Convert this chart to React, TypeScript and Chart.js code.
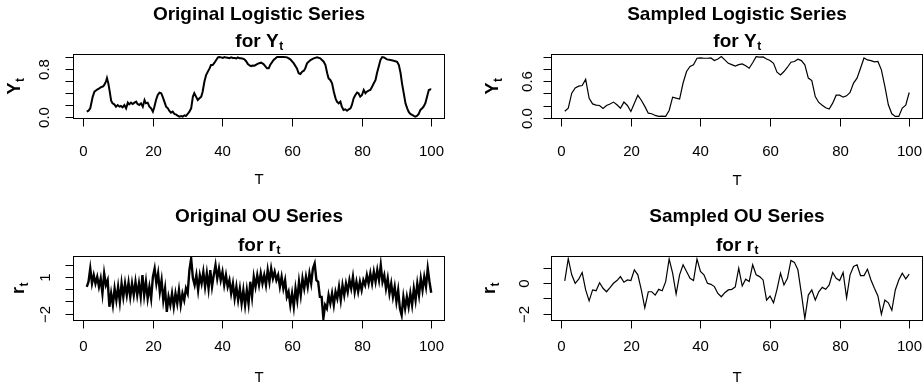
import React, { useEffect, useRef } from "react";
import { Chart, registerables } from "chart.js";

Chart.register(...registerables);

const FONT = '"Liberation Sans", Arial, Helvetica, sans-serif';

// ---------- axes ----------
const xTicks = [0, 20, 40, 60, 80, 100];
const xTickLabels = ["0", "20", "40", "60", "80", "100"];
const xMin = -2.96;
const xMax = 103.96;

const logisticTicks = [0, 0.2, 0.4, 0.6, 0.8, 1.0];
const origLogisticTickLabels = ["0.0", "", "", "", "0.8", ""];
const sampledLogisticTickLabels = ["0.0", "", "", "0.6", "", ""];
const origOUTicks = [-2, -1, 0, 1, 2];
const origOUTickLabels = ["\u22122", "", "", "1", ""];
const sampledOUTicks = [-2, -1, 0, 1];
const sampledOUTickLabels = ["\u22122", "", "0", ""];

// ---------- data ----------
const origLogisticT = [
  1, 1.5, 2, 2.7, 3.2, 4, 4.6, 5.1, 5.6, 6, 6.5, 6.8, 7.2, 7.6, 8, 8.4, 8.9, 9.4, 9.9, 10.4,
  10.8, 11.3, 11.8, 12.3, 12.8, 13.2, 13.7, 14.2, 14.7, 15.2, 15.6, 16.1, 16.6, 17.1, 17.6, 18, 18.5, 19, 19.5, 20,
  20.4, 20.9, 21.4, 21.9, 22.4, 22.8, 23.3, 23.8, 24.3, 24.7, 25.2, 25.7, 26.2, 26.7, 27.1, 27.6, 28.1, 28.6, 29.1, 29.5,
  30, 30.5, 31, 31.5, 31.9, 32.4, 32.9, 33.4, 33.9, 34.3, 34.8, 35.3, 35.8, 36.3, 36.7, 37.2, 37.7, 38.2, 38.7, 39.1,
  39.6, 40.1, 40.6, 41, 41.5, 42, 42.5, 43, 43.5, 44, 44.4, 44.9, 45.4, 45.9, 46.3, 46.8, 47.3, 47.8, 48.2, 48.7,
  49.2, 50.2, 51.1, 51.8, 52.8, 53.3, 53.7, 54.7, 55.7, 56.6, 57.6, 58.6, 59.5, 60.5, 61.4, 61.9, 62.4, 62.9, 63.4, 63.8,
  64.3, 65.3, 66.2, 67.2, 68.1, 69.1, 69.6, 70.1, 70.5, 71, 71.5, 72, 72.5, 72.9, 73.4, 73.9, 74.3, 74.8, 75.3, 75.8,
  76.3, 76.8, 77.2, 77.7, 78.2, 78.7, 79.1, 79.6, 80.1, 80.6, 81.1, 81.5, 82, 82.5, 83, 83.5, 84, 84.4, 84.9, 85.4,
  85.9, 86.4, 87.3, 88.3, 89.2, 90.2, 90.7, 91.2, 91.6, 92.1, 92.6, 93.1, 93.5, 94, 94.5, 95, 95.4, 95.9, 96.4, 96.9,
  97.4, 97.8, 98.3, 98.8, 99.3, 99.8, 100,
];
const origLogisticY = [
  0.094, 0.11, 0.15, 0.34, 0.425, 0.46, 0.48, 0.5, 0.51, 0.535, 0.59, 0.65, 0.56, 0.425, 0.276, 0.232, 0.215, 0.177, 0.204, 0.177,
  0.188, 0.166, 0.204, 0.149, 0.243, 0.215, 0.243, 0.221, 0.243, 0.26, 0.221, 0.204, 0.232, 0.177, 0.287, 0.232, 0.243, 0.177, 0.149, 0.094,
  0.166, 0.287, 0.37, 0.41, 0.4, 0.343, 0.26, 0.177, 0.149, 0.11, 0.077, 0.094, 0.055, 0.044, 0.028, 0.011, 0.022, 0.011, 0.033, 0.022,
  0.055, 0.094, 0.149, 0.343, 0.4, 0.343, 0.287, 0.315, 0.343, 0.425, 0.59, 0.7, 0.757, 0.812, 0.867, 0.867, 0.906, 0.95, 0.994, 1.0,
  0.994, 0.985, 1.0, 0.99, 0.989, 0.98, 0.994, 0.985, 0.983, 0.975, 0.994, 0.98, 0.978, 0.97, 0.961, 0.93, 0.884, 0.86, 0.85, 0.86,
  0.856, 0.89, 0.906, 0.884, 0.812, 0.812, 0.867, 0.95, 1.0, 1.0, 1.0, 0.994, 0.961, 0.895, 0.812, 0.73, 0.718, 0.757, 0.773, 0.812,
  0.895, 0.95, 0.978, 0.994, 0.978, 0.922, 0.867, 0.73, 0.646, 0.619, 0.564, 0.425, 0.315, 0.26, 0.232, 0.26, 0.177, 0.122, 0.133, 0.11,
  0.133, 0.149, 0.204, 0.315, 0.37, 0.41, 0.4, 0.343, 0.37, 0.453, 0.4, 0.425, 0.442, 0.453, 0.508, 0.564, 0.619, 0.73, 0.84, 0.95,
  1.0, 0.994, 0.961, 0.95, 0.939, 0.922, 0.867, 0.73, 0.564, 0.4, 0.232, 0.149, 0.094, 0.055, 0.039, 0.022, 0.011, 0.022, 0.055, 0.122,
  0.149, 0.177, 0.232, 0.343, 0.453, 0.464, 0.46,
];

const sampledT = Array.from({ length: 100 }, (_, i) => i + 1);
const sampledLogisticY = [
  0.11, 0.16, 0.405, 0.49, 0.52, 0.53, 0.63, 0.32, 0.23, 0.21,
  0.205, 0.157, 0.205, 0.23, 0.26, 0.216, 0.16, 0.26, 0.205, 0.108,
  0.24, 0.37, 0.29, 0.19, 0.08, 0.07, 0.043, 0.027, 0.032, 0.027,
  0.124, 0.34, 0.324, 0.31, 0.57, 0.757, 0.84, 0.865, 0.973, 0.978,
  0.973, 0.973, 0.978, 0.935, 0.962, 1.0, 0.946, 0.89, 0.87, 0.845,
  0.87, 0.88, 0.85, 0.81, 0.9, 1.0, 0.99, 0.995, 0.962, 0.935,
  0.89, 0.746, 0.7, 0.757, 0.827, 0.908, 0.92, 0.957, 0.935, 0.865,
  0.65, 0.61, 0.35, 0.254, 0.21, 0.168, 0.146, 0.243, 0.373, 0.373,
  0.34, 0.362, 0.416, 0.568, 0.65, 0.81, 0.978, 0.946, 0.935, 0.913,
  0.92, 0.784, 0.514, 0.216, 0.07, 0.027, 0.027, 0.162, 0.21, 0.416,
];

const origOUT = Array.from({ length: 199 }, (_, i) => 1 + i * 0.5);
const origOUY = [
  0.19, 0.6, 1.68, 0.46, 1.14, 0.46, 1.0, 0.19, 0.87, -0.35,
  1.28, 0.33, 0.73, -1.44, -0.35, -1.3, 0.05, -0.9, 0.19, -1.03,
  0.46, -0.63, 0.46, -0.49, 0.52, -0.63, 0.46, -0.49, 0.6, -0.49,
  0.46, -0.63, 1.14, -0.49, 0.6, -0.76, 0.19, -0.76, 1.0, 1.68,
  0.46, 1.28, -0.22, 0.73, -0.9, 0.05, -1.85, -0.63, -1.3, -0.35,
  -1.44, -0.35, -1.17, -0.08, -1.3, -0.35, -0.9, 0.05, -0.35, 1.55,
  2.5, 0.9, 0.33, 1.14, -0.08, 1.14, 0.46, 1.41, 0.19, 1.28,
  0.05, 1.55, 0.19, 1.14, 1.96, 0.87, 1.68, 0.73, 1.41, 0.33,
  1.14, 0.19, 0.73, -0.35, 0.46, -0.76, 0.19, -0.9, 0.05, -1.17,
  -0.08, -1.3, -0.08, -1.17, 0.6, -0.63, 1.0, 0.19, 1.14, 0.33,
  1.28, 0.46, 1.14, 0.33, 1.55, 0.6, 1.68, 0.87, 1.41, 0.73,
  1.14, 0.19, 1.0, 0.05, 0.73, -0.63, -0.22, -1.3, -0.35, -1.44,
  0.05, -0.9, 0.6, -0.49, 0.87, 0.05, 1.0, 0.19, 1.28, 0.46,
  1.68, 2.09, 0.73, 0.6, -0.63, -0.63, -2.39, -1.3, -1.58, -0.49,
  -1.17, -0.35, -1.3, -0.22, -0.76, 0.19, -0.9, 0.33, -0.49, 0.46,
  -0.22, 0.73, 0.05, 1.0, -0.22, 0.6, -0.22, 0.6, -0.08, 0.73,
  0.33, 1.14, 0.46, 1.28, 0.46, 1.41, 0.6, 1.55, 0.73, 1.96,
  0.6, 1.14, 0.05, 0.87, -0.35, 0.46, -0.63, 0.19, -1.03, -0.08,
  -1.58, -2.12, -0.63, -1.58, -0.63, -1.44, -0.35, -1.3, 0.05, -0.9,
  0.46, -0.49, 0.87, -0.08, 1.0, 0.19, 1.68, 0.6, -0.3,
];

const sampledOUY = [
  0.16, 1.62, 0.56, 0.0, 0.27, 0.71, -0.44, -1.16, -0.44, -0.49,
  0.04, -0.33, -0.56, -0.29, 0.0, 0.18, 0.44, 0.07, 0.22, 0.18,
  0.89, 0.56, -0.44, -1.62, -0.56, -0.56, -0.78, -0.4, -0.49, 0.11,
  1.6, 0.67, -0.71, 0.56, 1.22, 0.78, 0.33, 0.18, 1.6, 0.78,
  0.56, 0.0, -0.07, -0.22, -0.67, -0.89, -0.62, -0.44, -0.4, -0.24,
  1.0, -0.18, 0.27, 0.11, 1.22, 0.56, 0.44, 0.22, -1.11, -0.84,
  -1.29, -0.4, 0.67, -0.11, 0.33, 1.51, 1.38, 0.89, -0.67, -2.33,
  -0.78, -0.44, -1.11, -0.56, -0.27, -0.4, -0.11, 0.71, 0.33, 0.18,
  0.71, -0.96, 0.56, 1.11, 1.22, 0.51, 0.51, 0.93, 0.22, -0.33,
  -0.84, -2.04, -1.11, -1.29, -1.78, -0.44, 0.22, 0.67, 0.29, 0.6,
];

// ---------- panel layout ----------
type PanelCfg = {
  key: string;
  left: number;
  top: number;
  width: number;
  height: number;
  pad: { left: number; top: number; right: number; bottom: number };
  xs: number[];
  ys: number[];
  yMin: number;
  yMax: number;
  yTicks: number[];
  yTickLabels: string[];
  title: string;
  subMain: string;
  yMain: string;
  lineWidth: number;
  titleY1: number;
  titleY2: number;
  xLabelY: number;
  xTitleY: number;
  yLabelX: number;
  yTitleX: number;
};

const panels: PanelCfg[] = [
  {
    key: "p1", left: 0, top: 0, width: 462, height: 195,
    pad: { left: 73, top: 54, right: 17, bottom: 76 },
    xs: origLogisticT, ys: origLogisticY, yMin: -0.028, yMax: 1.05,
    yTicks: logisticTicks, yTickLabels: origLogisticTickLabels,
    title: "Original Logistic Series", subMain: "for Y", yMain: "Y",
    lineWidth: 2, titleY1: 15, titleY2: 40, xLabelY: 152, xTitleY: 180, yLabelX: 45, yTitleX: 14,
  },
  {
    key: "p2", left: 462, top: 0, width: 462, height: 195,
    pad: { left: 89, top: 54, right: 1, bottom: 76 },
    xs: sampledT, ys: sampledLogisticY, yMin: -0.015, yMax: 1.042,
    yTicks: logisticTicks, yTickLabels: sampledLogisticTickLabels,
    title: "Sampled Logistic Series", subMain: "for Y", yMain: "Y",
    lineWidth: 1.2, titleY1: 15, titleY2: 40, xLabelY: 152, xTitleY: 181, yLabelX: 66, yTitleX: 30,
  },
  {
    key: "p3", left: 0, top: 195, width: 462, height: 194,
    pad: { left: 73, top: 61, right: 17, bottom: 68 },
    xs: origOUT, ys: origOUY, yMin: -2.6, yMax: 2.7,
    yTicks: origOUTicks, yTickLabels: origOUTickLabels,
    title: "Original OU Series", subMain: "for r", yMain: "r",
    lineWidth: 2.4, titleY1: 22, titleY2: 49, xLabelY: 152, xTitleY: 183, yLabelX: 46, yTitleX: 18,
  },
  {
    key: "p4", left: 462, top: 195, width: 462, height: 194,
    pad: { left: 89, top: 61, right: 1, bottom: 68 },
    xs: sampledT, ys: sampledOUY, yMin: -2.49, yMax: 1.8,
    yTicks: sampledOUTicks, yTickLabels: sampledOUTickLabels,
    title: "Sampled OU Series", subMain: "for r", yMain: "r",
    lineWidth: 1.2, titleY1: 22, titleY2: 49, xLabelY: 152, xTitleY: 183, yLabelX: 63, yTitleX: 27,
  },
];

const TICK_LEN = 8;

function drawSub(ctx: CanvasRenderingContext2D, main: string, sub: string, cx: number, cy: number, size: number, subSize: number) {
  ctx.font = `bold ${size}px ${FONT}`;
  const mw = ctx.measureText(main).width;
  ctx.font = `bold ${subSize}px ${FONT}`;
  const sw = ctx.measureText(sub).width;
  const start = cx - (mw + sw) / 2;
  const base = cy + size * 0.36;
  ctx.textAlign = "left";
  ctx.textBaseline = "alphabetic";
  ctx.font = `bold ${size}px ${FONT}`;
  ctx.fillText(main, start, base);
  ctx.font = `bold ${subSize}px ${FONT}`;
  ctx.fillText(sub, start + mw + 0.5, base + size * 0.18);
}

function makePlugin(cfg: PanelCfg) {
  return {
    id: "rstyle_" + cfg.key,
    afterDraw(chart: any) {
      const ctx: CanvasRenderingContext2D = chart.ctx;
      const a = chart.chartArea;
      const sx = chart.scales.x;
      const sy = chart.scales.y;
      const xv: number[] = sx.ticks && sx.ticks.length === xTicks.length ? sx.ticks.map((t: any) => t.value) : xTicks;
      const yv: number[] = sy.ticks && sy.ticks.length === cfg.yTicks.length ? sy.ticks.map((t: any) => t.value) : cfg.yTicks;
      ctx.save();
      ctx.strokeStyle = "#000";
      ctx.fillStyle = "#000";
      ctx.lineWidth = 1;
      const L = Math.round(a.left) + 0.5;
      const R = Math.round(a.right) - 0.5;
      const T = Math.round(a.top) + 0.5;
      const B = Math.round(a.bottom) - 0.5;
      ctx.strokeRect(L, T, R - L, B - T);

      // x axis
      ctx.beginPath();
      const xp = xv.map((v) => Math.round(sx.getPixelForValue(v)) + 0.5);
      ctx.moveTo(xp[0], B);
      ctx.lineTo(xp[xp.length - 1], B);
      xp.forEach((p) => {
        ctx.moveTo(p, B);
        ctx.lineTo(p, B + TICK_LEN);
      });
      // y axis
      const yp = yv.map((v) => Math.round(sy.getPixelForValue(v)) + 0.5);
      ctx.moveTo(L, yp[0]);
      ctx.lineTo(L, yp[yp.length - 1]);
      yp.forEach((p) => {
        ctx.moveTo(L, p);
        ctx.lineTo(L - TICK_LEN, p);
      });
      ctx.stroke();

      // x tick labels
      ctx.font = `15px ${FONT}`;
      ctx.textAlign = "center";
      ctx.textBaseline = "middle";
      xv.forEach((v, i) => {
        const idx = xTicks.indexOf(v);
        const lbl = idx >= 0 ? xTickLabels[idx] : String(v);
        ctx.fillText(lbl, xp[i], cfg.xLabelY);
      });
      // x title
      ctx.fillText("T", (L + R) / 2, cfg.xTitleY);

      // y tick labels (rotated)
      yv.forEach((v, i) => {
        const lbl = cfg.yTickLabels[i];
        if (!lbl) return;
        ctx.save();
        ctx.translate(cfg.yLabelX, yp[i]);
        ctx.rotate(-Math.PI / 2);
        ctx.font = `15px ${FONT}`;
        ctx.textAlign = "center";
        ctx.textBaseline = "middle";
        ctx.fillText(lbl, 0, 0);
        ctx.restore();
      });

      // y title (rotated, with subscript)
      ctx.save();
      ctx.translate(cfg.yTitleX, (T + B) / 2);
      ctx.rotate(-Math.PI / 2);
      drawSub(ctx, cfg.yMain, "t", 0, 0, 18, 12);
      ctx.restore();

      // main title
      const cx = (L + R) / 2;
      ctx.font = `bold 19px ${FONT}`;
      ctx.textAlign = "center";
      ctx.textBaseline = "middle";
      ctx.fillText(cfg.title, cx, cfg.titleY1);
      drawSub(ctx, cfg.subMain, "t", cx, cfg.titleY2, 19, 12);

      ctx.restore();
    },
  };
}

function Panel({ cfg }: { cfg: PanelCfg }) {
  const ref = useRef<HTMLCanvasElement>(null);
  useEffect(() => {
    if (!ref.current) return;
    const points = cfg.xs.map((x, i) => ({ x, y: cfg.ys[i] }));
    const chart = new Chart(ref.current, {
      type: "line",
      data: {
        datasets: [
          {
            data: points,
            borderColor: "#000",
            backgroundColor: "#000",
            borderWidth: cfg.lineWidth,
            pointRadius: 0,
            tension: 0,
            fill: false,
          },
        ],
      },
      options: {
        animation: false,
        responsive: false,
        maintainAspectRatio: false,
        events: [],
        layout: { padding: cfg.pad },
        plugins: {
          legend: { display: false },
          tooltip: { enabled: false },
          title: { display: false },
        },
        scales: {
          x: {
            type: "linear",
            min: xMin,
            max: xMax,
            display: false,
            ticks: { autoSkip: false },
            afterBuildTicks: (axis: any) => {
              axis.ticks = xTicks.map((v) => ({ value: v }));
            },
          },
          y: {
            type: "linear",
            min: cfg.yMin,
            max: cfg.yMax,
            display: false,
            ticks: { autoSkip: false },
            afterBuildTicks: (axis: any) => {
              axis.ticks = cfg.yTicks.map((v) => ({ value: v }));
            },
          },
        },
      },
      plugins: [makePlugin(cfg)],
    } as any);
    return () => chart.destroy();
  }, [cfg]);
  return (
    <canvas
      ref={ref}
      width={cfg.width}
      height={cfg.height}
      style={{ position: "absolute", left: cfg.left, top: cfg.top, width: cfg.width, height: cfg.height }}
    />
  );
}

export default function App() {
  return (
    <div
      style={{
        position: "fixed",
        left: 0,
        top: 0,
        width: 924,
        height: 389,
        background: "#fff",
        overflow: "hidden",
      }}
    >
      {panels.map((p) => (
        <Panel key={p.key} cfg={p} />
      ))}
    </div>
  );
}
